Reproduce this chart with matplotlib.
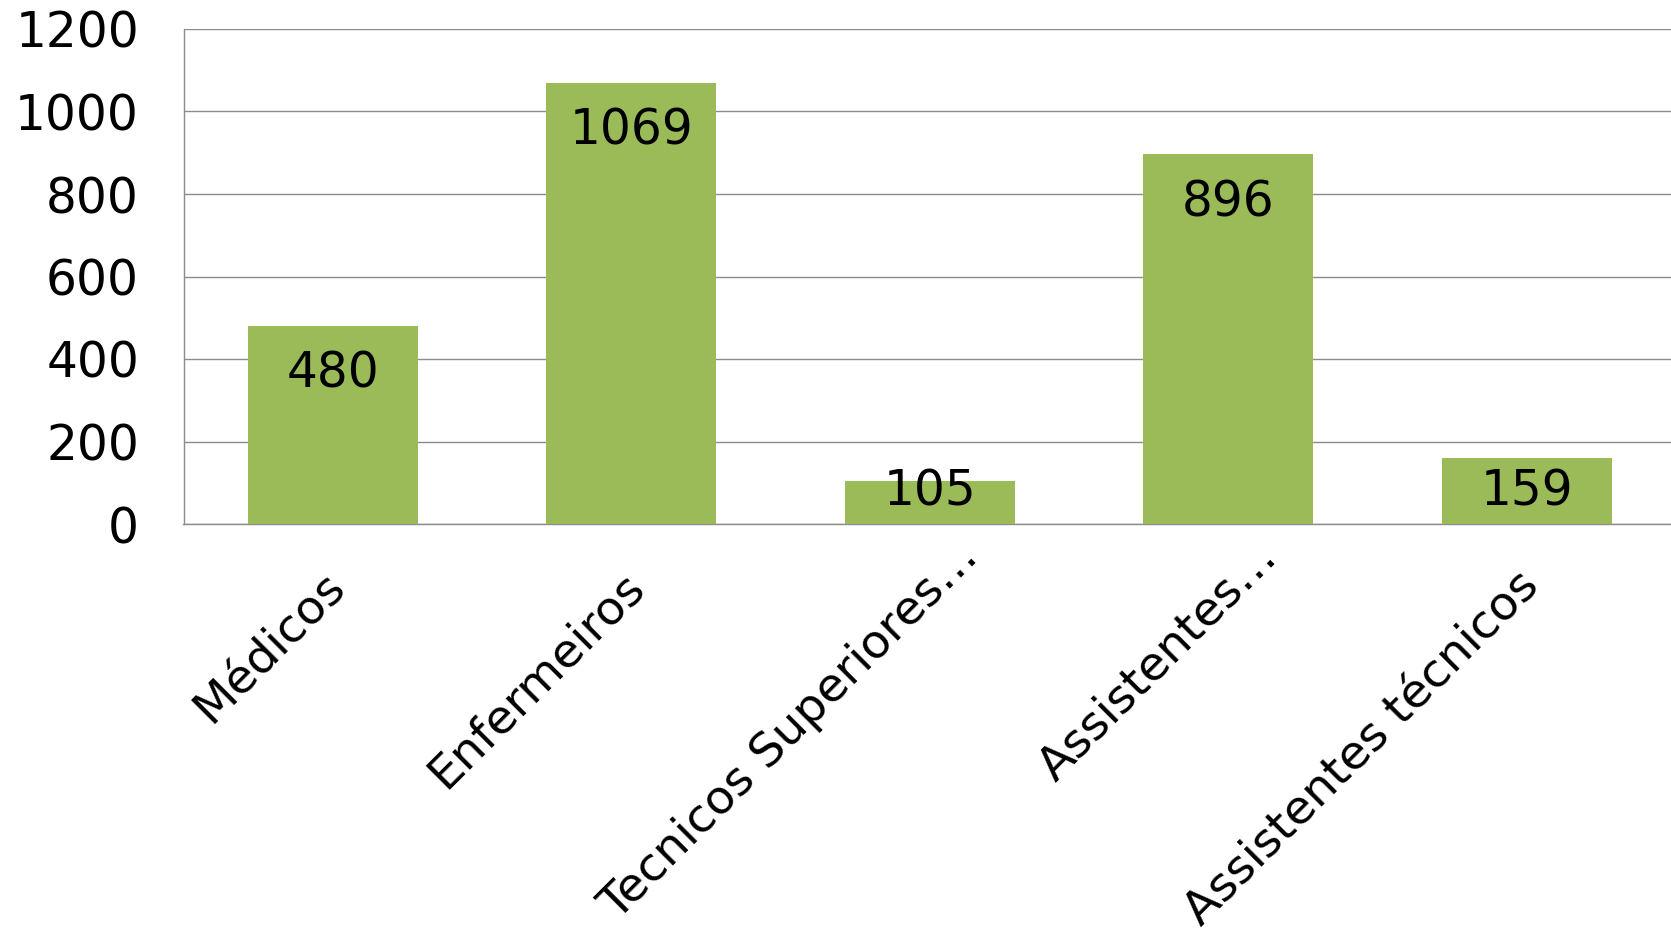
import matplotlib
matplotlib.use("Agg")
import matplotlib.pyplot as plt

categories = ["Médicos", "Enfermeiros", "Tecnicos Superiores…", "Assistentes…", "Assistentes técnicos"]
values = [480, 1069, 105, 896, 159]
yticks = [0, 200, 400, 600, 800, 1000, 1200]

plt.rcParams['font.family'] = ['DejaVu Sans']

fig = plt.figure(figsize=(16.71, 9.34), dpi=100)
ax = fig.add_axes([183.5/1671, 1 - 524/934, 1492.5/1671, (524 - 29)/934])

x = list(range(len(categories)))
ax.bar(x, values, width=0.57, color="#9BBB59", zorder=3)

ax.set_xlim(-0.5, len(categories) - 0.5)
ax.set_ylim(0, 1200)
ax.set_yticks(yticks)
ax.set_yticklabels([str(t) for t in yticks])
ax.yaxis.grid(True, color="#8C8C8C", linewidth=1.0, zorder=0)
ax.set_axisbelow(True)

for s in ["top", "right"]:
    ax.spines[s].set_visible(False)
for s in ["left", "bottom"]:
    ax.spines[s].set_color("#8C8C8C")
    ax.spines[s].set_linewidth(1.0)

ax.tick_params(axis="y", length=0, pad=32, labelsize=35, labelcolor="black")
ax.set_xticks(x)
ax.set_xticklabels([])
ax.tick_params(axis="x", length=0)

# category labels, rotated 45 degrees, ending just below each bar
for xi, cat in zip(x, categories):
    truncated = cat.endswith("…")
    off = (30, -19) if truncated else (4, -40)
    ax.annotate(cat, xy=(xi, 0), xycoords=("data", "axes fraction"),
                xytext=off, textcoords="offset points",
                rotation=45, ha="right", va="center", rotation_mode="anchor",
                fontsize=34, color="black", annotation_clip=False)

min_anchor = 195
for xi, v in zip(x, values):
    ax.annotate(str(v), xy=(xi, max(v, min_anchor)), xytext=(0, -17), textcoords="offset points",
                ha="center", va="top", fontsize=35, color="black", zorder=4)

fig.savefig("out.png", dpi=100)
